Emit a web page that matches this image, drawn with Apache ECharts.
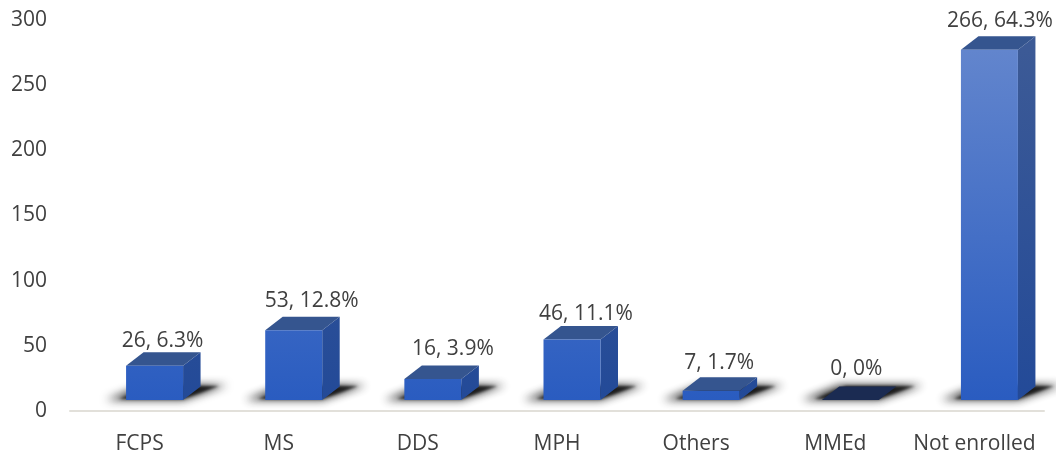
<!DOCTYPE html>
<html>
<head>
<meta charset="utf-8">
<style>html,body{margin:0;padding:0;background:#fff}#c{width:1056px;height:455px}</style>
<script src="https://cdn.jsdelivr.net/npm/echarts@6/dist/echarts.min.js"></script>
</head>
<body>
<div id="c"></div>
<script>
const categories = ['FCPS','MS','DDS','MPH','Others','MMEd','Not enrolled'];
const counts = [26,53,16,46,7,0,266];
const percents = ['6.3%','12.8%','3.9%','11.1%','1.7%','0%','64.3%'];
const yTicks = {min:0,max:300,interval:50};

const FONT = '"Open Sans", sans-serif';
const TEXT = '#404040';
const lift = 11, shift = 15, halfW = 28.5, dx = 17.5, dy = 13.5, stretch = 1.01, away = 3000;

function vGrad(a,b,y1,y2){return {type:'linear',x:0,y:y1,x2:0,y2:y2,global:true,colorStops:[{offset:0,color:a},{offset:1,color:b}]};}

function softShape(points, blur, alpha){
  return {type:'polygon',silent:true,
    shape:{points:points.map(p=>[p[0]-away,p[1]])},
    style:{fill:'#000',shadowBlur:blur,shadowOffsetX:away,shadowColor:'rgba(20,20,20,'+alpha+')'}};
}

// hand placement of each data label relative to its bar, as in the reference
function labelNudge(i){
  return [[0,4],[10,0],[12,-1],[6,4],[0,1],[-2,-2],[2.5,0]][i];
}

function renderItem(params, api){
  const i = api.value(0), v = api.value(1);
  const top = api.coord([i,v]), base = api.coord([i,0]);
  const cx = top[0] + shift, y0 = base[1] - lift, h = (base[1]-top[1])*stretch, y1 = y0 - h;
  const l = cx-halfW, r = cx+halfW;
  const n = labelNudge(i);
  const children = [
    softShape([[l-20,y0],[r,y0],[r+44,y0-15],[l+18,y0-15]],8,0.85),
    softShape([[l-7,y0-1],[r,y0-1],[r+36,y0-14],[l+24,y0-14]],3,0.9)
  ];
  if(v>0){
    children.push({type:'polygon',shape:{points:[[r,y0],[r+dx,y0-dy],[r+dx,y1-dy],[r,y1]]},
      style:{fill:vGrad('#3c5a96','#234a98',50,400)}});
    children.push({type:'polygon',shape:{points:[[l,y1],[r,y1],[r+dx,y1-dy],[l+dx,y1-dy]]},
      style:{fill:'#35558f'}});
    children.push({type:'rect',shape:{x:l,y:y1,width:r-l,height:h},
      style:{fill:vGrad('#6285cd','#2a5cc0',50,400)}});
  } else {
    children.push({type:'polygon',shape:{points:[[l,y0],[r,y0],[r+dx,y0-dy],[l+dx,y0-dy]]},
      style:{fill:'#1b2b52'}});
  }
  children.push({type:'text',x:cx+8+n[0],y:y1-29+n[1],
    style:{text:v+', '+percents[i],fill:TEXT,font:'21px '+FONT,align:'center',verticalAlign:'middle'}});
  return {type:'group',children};
}

const chart = echarts.init(document.getElementById('c'),null,{renderer:'canvas'});
chart.setOption({
  animation:false,
  backgroundColor:'#fff',
  grid:{left:70,right:12,top:20,bottom:43.5},
  xAxis:{type:'category',data:categories,
    axisTick:{show:false},
    axisLine:{lineStyle:{color:'#e2e0da',width:2}},
    axisLabel:{color:TEXT,fontFamily:'"Open Sans", sans-serif',fontSize:21,margin:23,interval:0}},
  yAxis:{type:'value',min:yTicks.min,max:yTicks.max,interval:yTicks.interval,
    axisLine:{show:false},axisTick:{show:false},splitLine:{show:false},
    axisLabel:{color:TEXT,fontFamily:'"Open Sans", sans-serif',fontSize:21,margin:23,padding:[3,0,0,0]}},
  series:[{type:'custom',renderItem,clip:false,
    encode:{x:0,y:1},
    data:counts.map((c,i)=>[i,c])}]
});
</script>
</body>
</html>
